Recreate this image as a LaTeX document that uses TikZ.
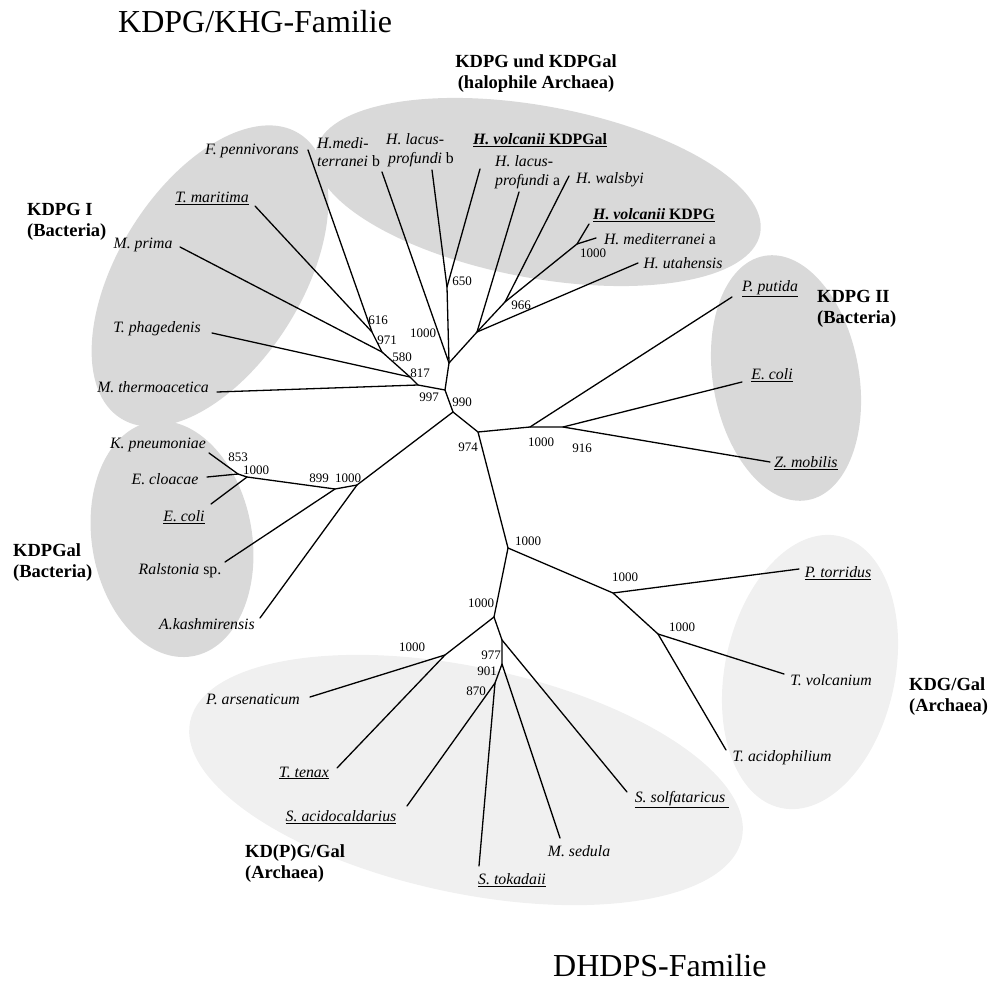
\documentclass[tikz,border=0pt]{standalone}
\usepackage{fontspec}
\setmainfont{Liberation Serif}
\definecolor{cladeDark}{HTML}{D9D9D9}
\definecolor{cladeLight}{HTML}{F0F0F0}
\tikzset{
  branch/.style={line width=1.3pt, line cap=round, line join=round},
  taxon/.style={font=\fontsize{15.8}{18.5}\selectfont\itshape, inner sep=0pt, align=left},
  boot/.style={font=\fontsize{13}{15}\selectfont, inner sep=0pt},
  clade/.style={font=\fontsize{18.5}{21.5}\selectfont\bfseries, inner sep=0pt,
                align=left, anchor=north west},
  family/.style={font=\fontsize{32}{36}\selectfont, inner sep=0pt, anchor=base west},
  bubbleD/.style={fill=cladeDark},
  bubbleL/.style={fill=cladeLight},
}

\begin{document}
\begin{tikzpicture}[x=1pt, y=-1pt]
  \useasboundingbox (0,0) rectangle (992,981);
  % clade bubbles
  \fill[bubbleL, rotate around={-12:(466,780)}] (466,780) ellipse [x radius=282, y radius=113];
  \fill[bubbleL, rotate around={-12:(810,672)}] (810,672) ellipse [x radius=85, y radius=139];
  \fill[bubbleD, rotate around={-10.5:(538,192)}] (538,192) ellipse [x radius=226, y radius=86];
  \fill[bubbleD, rotate around={58:(210,276)}] (210,276) ellipse [x radius=168, y radius=92];
  \fill[bubbleD, rotate around={10:(172,539)}] (172,539) ellipse [x radius=80, y radius=119];
  \fill[bubbleD, rotate around={10:(786,378)}] (786,378) ellipse [x radius=73, y radius=124];

  % inner nodes of the tree
  \coordinate (A) at (445,390);
  \coordinate (B) at (449,363);
  \coordinate (F) at (447,287);
  \coordinate (C) at (477,332);
  \coordinate (D) at (505,302);
  \coordinate (E) at (577,244);
  \coordinate (G) at (418,385);
  \coordinate (H) at (410,377);
  \coordinate (I) at (382,352);
  \coordinate (J) at (372,332);
  \coordinate (L) at (453,412);
  \coordinate (M) at (478,432);
  \coordinate (N) at (530,427);
  \coordinate (O) at (563,427);
  \coordinate (K1) at (238,474);
  \coordinate (K2) at (247,477);
  \coordinate (K3) at (335,489);
  \coordinate (K4) at (357,485);
  \coordinate (Q) at (508,548);
  \coordinate (R) at (613,593);
  \coordinate (S) at (658,634);
  \coordinate (U) at (494,617);
  \coordinate (V) at (445,655);
  \coordinate (W) at (502,640);
  \coordinate (X) at (502,664);
  \coordinate (Y) at (495,683);

  % leaf tips
  \coordinate (hmedb) at (382,172);
  \coordinate (hlacb) at (432,170);
  \coordinate (hvolgal) at (480,169);
  \coordinate (hlaca) at (519,192);
  \coordinate (hwals) at (569,176);
  \coordinate (hvolkdpg) at (589,224);
  \coordinate (hmeda) at (596,238);
  \coordinate (hutah) at (638,263);
  \coordinate (fpenn) at (308,150);
  \coordinate (tmar) at (255,206);
  \coordinate (mprima) at (180,247);
  \coordinate (tphag) at (212,333);
  \coordinate (mtherm) at (217,392);
  \coordinate (kpneu) at (209,453);
  \coordinate (eclo) at (207,477);
  \coordinate (ecolia) at (211,504);
  \coordinate (ralst) at (225,562);
  \coordinate (akash) at (260,618);
  \coordinate (pput) at (732,297);
  \coordinate (ecolib) at (742,382);
  \coordinate (zmob) at (770,462);
  \coordinate (ptorr) at (799,569);
  \coordinate (tvolc) at (784,674);
  \coordinate (tacid) at (726,750);
  \coordinate (parsen) at (310,697);
  \coordinate (ttenax) at (337,768);
  \coordinate (sacido) at (407,806);
  \coordinate (stoka) at (479,866);
  \coordinate (msed) at (560,838);
  \coordinate (ssolf) at (627,792);

  % branches
  \draw[branch] (L) -- (A) -- (B) -- (F) -- (hlacb);
  \draw[branch] (F) -- (hvolgal);
  \draw[branch] (B) -- (hmedb);
  \draw[branch] (B) -- (C) -- (hlaca);
  \draw[branch] (C) -- (hutah);
  \draw[branch] (C) -- (D) -- (E) -- (hvolkdpg);
  \draw[branch] (D) -- (hwals);
  \draw[branch] (E) -- (hmeda);
  \draw[branch] (A) -- (G) -- (mtherm);
  \draw[branch] (G) -- (H) -- (I) -- (J) -- (fpenn);
  \draw[branch] (H) -- (tphag);
  \draw[branch] (I) -- (mprima);
  \draw[branch] (J) -- (tmar);
  \draw[branch] (L) -- (K4) -- (K3) -- (K2) -- (K1) -- (kpneu);
  \draw[branch] (K1) -- (eclo);
  \draw[branch] (K2) -- (ecolia);
  \draw[branch] (K3) -- (ralst);
  \draw[branch] (K4) -- (akash);
  \draw[branch] (L) -- (M) -- (N) -- (O) -- (zmob);
  \draw[branch] (N) -- (pput);
  \draw[branch] (O) -- (ecolib);
  \draw[branch] (M) -- (Q) -- (R) -- (ptorr);
  \draw[branch] (R) -- (S) -- (tvolc);
  \draw[branch] (S) -- (tacid);
  \draw[branch] (Q) -- (U) -- (V) -- (parsen);
  \draw[branch] (V) -- (ttenax);
  \draw[branch] (U) -- (W) -- (ssolf);
  \draw[branch] (W) -- (X) -- (msed);
  \draw[branch] (X) -- (Y) -- (sacido);
  \draw[branch] (Y) -- (stoka);

  % taxon names
  \node[taxon, anchor=west] (t-hmedb) at (317,152) {H.medi-\\terranei \upshape b};
  \node[taxon, anchor=west] (t-hlacb) at (386,150) {H. lacus-\\\hspace*{2pt}profundi \upshape b};
  \node[taxon] (t-hvolgal) at (540,140) {\underline{\bfseries H. volcanii \upshape KDPGal}};
  \node[taxon, anchor=west] (t-hlaca) at (495,172) {H. lacus-\\profundi \upshape a};
  \node[taxon] (t-hwals) at (610,180) {H. walsbyi};
  \node[taxon] (t-hvolkdpg) at (654,215) {\underline{\bfseries H. volcanii \upshape KDPG}};
  \node[taxon] (t-hmeda) at (660,239) {H. mediterranei \upshape a};
  \node[taxon] (t-hutah) at (683,263) {H. utahensis};
  \node[taxon] (t-fpenn) at (252,151) {F. pennivorans};
  \node[taxon] (t-tmar) at (212,198) {\underline{T. maritima}};
  \node[taxon] (t-mprima) at (143,245) {M. prima};
  \node[taxon] (t-tphag) at (157,329) {T. phagedenis};
  \node[taxon] (t-mtherm) at (153,387) {M. thermoacetica};
  \node[taxon] (t-kpneu) at (158,445) {K. pneumoniae};
  \node[taxon] (t-eclo) at (165,479) {E. cloacae};
  \node[taxon] (t-ecolia) at (184,517) {\underline{E. coli}};
  \node[taxon] (t-ralst) at (180,571) {Ralstonia \upshape sp.};
  \node[taxon] (t-akash) at (207,624) {A.kashmirensis};
  \node[taxon] (t-pput) at (770,289) {\underline{P. putida}};
  \node[taxon] (t-ecolib) at (772,375) {\underline{E. coli}};
  \node[taxon] (t-zmob) at (806,463) {\underline{Z. mobilis}};
  \node[taxon] (t-ptorr) at (838,573) {\underline{P. torridus}};
  \node[taxon] (t-tvolc) at (831,680) {T. volcanium};
  \node[taxon] (t-tacid) at (782,758) {T. acidophilium};
  \node[taxon] (t-ssolf) at (682,800) {\underline{S. solfataricus\ }};
  \node[taxon] (t-parsen) at (253,699) {P. arsenaticum};
  \node[taxon] (t-ttenax) at (304,773) {\underline{T. tenax}};
  \node[taxon] (t-sacido) at (341,817) {\underline{S. acidocaldarius}};
  \node[taxon] (t-stoka) at (512,880) {\underline{S. tokadaii}};
  \node[taxon] (t-msed) at (579,851) {M. sedula};

  % bootstrap values
  \node[boot] (bF) at (462,281) {650};
  \node[boot] (bE) at (593,253) {1000};
  \node[boot] (bD) at (521,305) {966};
  \node[boot] (bB) at (423,333) {1000};
  \node[boot] (bJ) at (378,320) {616};
  \node[boot] (bI) at (387,340) {971};
  \node[boot] (bH) at (402,357) {580};
  \node[boot] (bG) at (420,373) {817};
  \node[boot] (bA) at (429,397) {997};
  \node[boot] (bL) at (462,402) {990};
  \node[boot] (bM) at (468,447) {974};
  \node[boot] (bN) at (541,442) {1000};
  \node[boot] (bO) at (582,448) {916};
  \node[boot] (bK1) at (238,457) {853};
  \node[boot] (bK2) at (256,470) {1000};
  \node[boot] (bK3) at (319,478) {899};
  \node[boot] (bK4) at (348,478) {1000};
  \node[boot] (bQ) at (528,541) {1000};
  \node[boot] (bR) at (625,577) {1000};
  \node[boot] (bS) at (682,627) {1000};
  \node[boot] (bU) at (481,603) {1000};
  \node[boot] (bV) at (412,647) {1000};
  \node[boot] (bW) at (491,655) {977};
  \node[boot] (bX) at (487,671) {901};
  \node[boot] (bY) at (476,691) {870};

  % clade names
  \node[clade, align=center, anchor=north] (c-halo) at (536,54) {KDPG und KDPGal\\(halophile Archaea)};
  \node[clade] (c-kdpg1) at (27,203) {KDPG I\\(Bacteria)};
  \node[clade] (c-kdpgal) at (13,543) {KDPGal\\(Bacteria)};
  \node[clade] (c-kdpg2) at (817,290) {KDPG II\\(Bacteria)};
  \node[clade] (c-kdg) at (909,677) {KDG/Gal\\(Archaea)};
  \node[clade] (c-kdpgarch) at (245,844) {KD(P)G/Gal\\(Archaea)};

  % families
  \node[family] (fam-top) at (118,33) {KDPG/KHG-Familie};
  \node[family] (fam-bot) at (553,976) {DHDPS-Familie};
\end{tikzpicture}
\end{document}
